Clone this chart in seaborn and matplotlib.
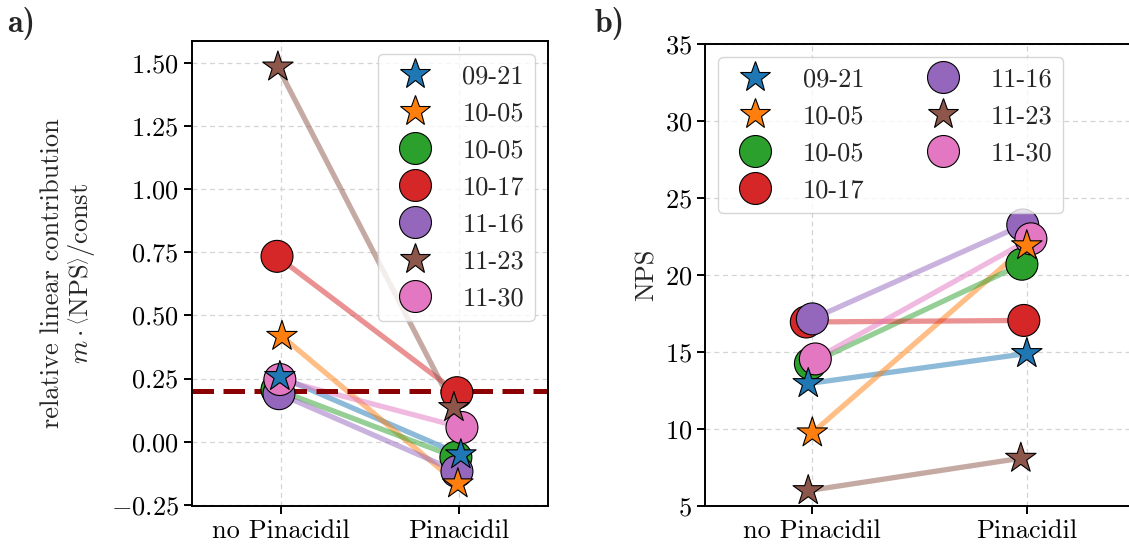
import numpy as np
import pandas as pd
import matplotlib
matplotlib.use("Agg")
import matplotlib.pyplot as plt
import seaborn as sns
from matplotlib.lines import Line2D

# ---- data -------------------------------------------------------------
conditions = ["no Pinacidil", "Pinacidil"]
dates = ["09-21", "10-05", "10-05", "10-17", "11-16", "11-23", "11-30"]
marker_kind = ["*", "*", "o", "o", "o", "*", "o"]

# relative linear contribution  m*<NPS>/const
contrib_no = [0.258, 0.417, 0.206, 0.734, 0.190, 1.484, 0.246]
contrib_pin = [-0.052, -0.167, -0.062, 0.194, -0.118, 0.135, 0.056]
threshold = 0.2

# NPS
nps_no = [12.95, 9.75, 14.25, 16.95, 17.15, 6.0, 14.55]
nps_pin = [14.9, 21.9, 20.7, 17.05, 23.25, 8.1, 22.35]

# small horizontal scatter so overlapping points stay visible
jitter_a_no = [-0.006, 0.006, -0.022, -0.022, -0.011, -0.017, -0.006]
jitter_a_pin = [0.011, -0.006, -0.017, -0.011, -0.011, -0.028, 0.017]
jitter_b_no = [-0.019, 0.0, -0.009, -0.028, 0.0, -0.019, 0.014]
jitter_b_pin = [0.0, 0.0, -0.023, -0.014, -0.019, -0.028, 0.019]

# ---- style ------------------------------------------------------------
sns.set_style("ticks")
FS = 19
plt.rcParams.update({
    "font.family": "serif",
    "font.serif": ["cmr10"],
    "mathtext.fontset": "cm",
    "axes.formatter.use_mathtext": True,
    "axes.unicode_minus": False,
    "font.size": FS,
    "axes.labelsize": FS,
    "xtick.labelsize": FS,
    "ytick.labelsize": FS,
    "legend.fontsize": FS,
    "axes.edgecolor": "black",
    "axes.linewidth": 1.4,
    "xtick.major.width": 1.4,
    "ytick.major.width": 1.4,
    "xtick.major.size": 6,
    "ytick.major.size": 6,
    "xtick.color": "black",
    "ytick.color": "black",
})

palette = sns.color_palette("tab10", 7)
ids = [f"s{i}" for i in range(len(dates))]
pal = dict(zip(ids, palette))
MS = 23
EDGE_W = 0.8


def long_frame(no_vals, pin_vals, jit_no, jit_pin):
    rows = []
    for i, sid in enumerate(ids):
        rows.append(dict(series=sid, pos=0 + jit_no[i], value=no_vals[i],
                         marker=marker_kind[i]))
        rows.append(dict(series=sid, pos=1 + jit_pin[i], value=pin_vals[i],
                         marker=marker_kind[i]))
    return pd.DataFrame(rows)


def draw_panel(ax, df):
    sns.lineplot(data=df, x="pos", y="value", hue="series", palette=pal,
                 estimator=None, sort=True, lw=3.8, alpha=0.5, legend=False,
                 ax=ax, zorder=1)
    for mk, z in (("o", 3), ("*", 4)):
        sub = df[df["marker"] == mk]
        sns.scatterplot(data=sub, x="pos", y="value", hue="series",
                        palette=pal, marker=mk, s=MS ** 2,
                        edgecolor="black", linewidth=EDGE_W, legend=False,
                        ax=ax, zorder=z)
    ax.set_xticks([0, 1])
    ax.set_xticklabels(conditions)
    ax.set_xlim(-0.5, 1.5)
    ax.set_xlabel("")
    ax.grid(True, ls=(0, (4, 3)), color="#d4d4d4", lw=0.9)
    ax.set_axisbelow(True)
    for sp in ax.spines.values():
        sp.set_visible(True)


def legend_handles():
    return [Line2D([], [], ls="none", marker=marker_kind[i], markersize=MS,
                   markerfacecolor=palette[i], markeredgecolor="black",
                   markeredgewidth=EDGE_W, label=dates[i])
            for i in range(len(dates))]


fig = plt.figure(figsize=(11.29, 5.54), dpi=100)
ax_a = fig.add_axes([0.170, 0.0866, 0.3153, 0.8394])
ax_b = fig.add_axes([0.6245, 0.0866, 0.3800, 0.8340])

# panel a
df_a = long_frame(contrib_no, contrib_pin, jitter_a_no, jitter_a_pin)
draw_panel(ax_a, df_a)
ax_a.axhline(threshold, color="#8b0000", ls=(0, (4.3, 1.9)), lw=3.6, zorder=2)
ax_a.set_ylim(-0.255, 1.587)
ax_a.set_yticks([-0.25, 0.0, 0.25, 0.5, 0.75, 1.0, 1.25, 1.5])
ax_a.yaxis.set_major_formatter(plt.FormatStrFormatter("$%.2f$"))
ax_a.set_ylabel("relative linear contribution\n"
                r"$m\cdot\left\langle\mathrm{NPS}\right\rangle/\mathrm{const}$",
                linespacing=1.1, labelpad=10)
ax_a.legend(handles=legend_handles(), loc="upper right", framealpha=0.8)

# panel b
df_b = long_frame(nps_no, nps_pin, jitter_b_no, jitter_b_pin)
draw_panel(ax_b, df_b)
ax_b.set_ylim(5, 35)
ax_b.set_yticks([5, 10, 15, 20, 25, 30, 35])
ax_b.set_ylabel("NPS")
ax_b.legend(handles=legend_handles(), loc="upper left", ncol=2,
            framealpha=0.8)

fig.text(0.006, 0.958, "a)", fontsize=23, fontfamily="cmb10", va="center")
fig.text(0.527, 0.958, "b)", fontsize=23, fontfamily="cmb10", va="center")

fig.savefig("out.png", dpi=100)
